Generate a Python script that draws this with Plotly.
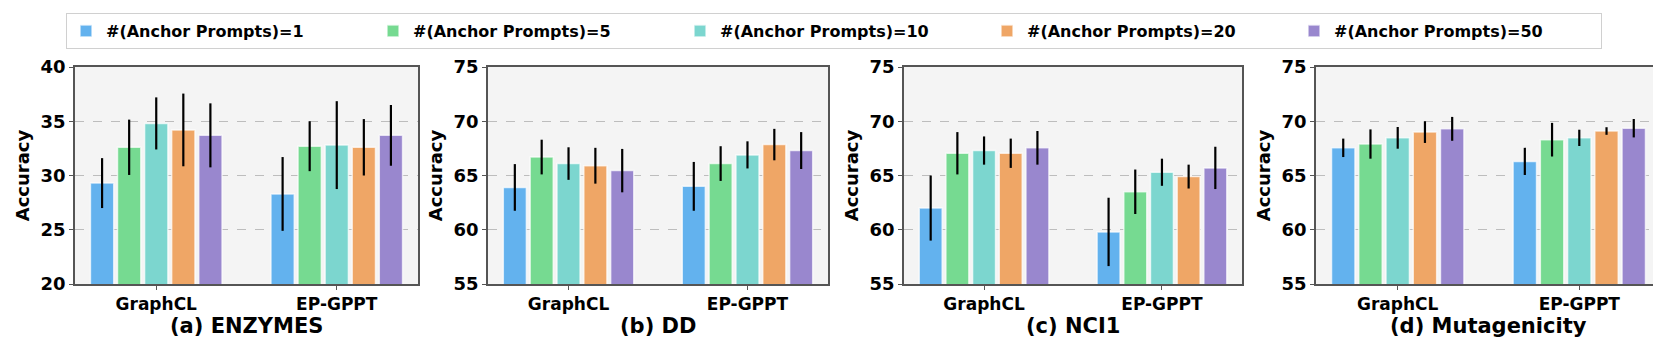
import plotly.graph_objects as go
from plotly.subplots import make_subplots

# methods on the x axis and number of anchor prompts (one bar per count)
methods = ['GraphCL', 'EP-GPPT']
prompt_counts = [1, 5, 10, 20, 50]
colors = ['#63b2ee', '#76da91', '#7cd6cf', '#efa666', '#9987ce']

datasets = ['(a) ENZYMES', '(b) DD', '(c) NCI1', '(d) Mutagenicity']
y_ranges = [[20, 40], [55, 75], [55, 75], [55, 75]]

# accuracy means, one list per prompt count: [GraphCL, EP-GPPT]
enzymes_mean = [[29.3, 28.3], [32.6, 32.7], [34.8, 32.8], [34.2, 32.6], [33.7, 33.7]]
enzymes_std = [[2.3, 3.4], [2.55, 2.3], [2.4, 4.05], [3.35, 2.6], [2.95, 2.8]]

dd_mean = [[63.9, 64.0], [66.7, 66.1], [66.1, 66.9], [65.9, 67.85], [65.45, 67.3]]
dd_std = [[2.15, 2.25], [1.6, 1.6], [1.5, 1.25], [1.65, 1.45], [2.0, 1.7]]

nci1_mean = [[62.0, 59.8], [67.05, 63.5], [67.3, 65.3], [67.05, 64.9], [67.55, 65.7]]
nci1_std = [[3.0, 3.15], [1.95, 2.05], [1.3, 1.25], [1.35, 1.1], [1.55, 1.95]]

muta_mean = [[67.55, 66.3], [67.9, 68.3], [68.47, 68.47], [69.0, 69.1], [69.3, 69.36]]
muta_std = [[0.85, 1.25], [1.35, 1.55], [1.0, 0.75], [1.0, 0.35], [1.1, 0.85]]

all_means = [enzymes_mean, dd_mean, nci1_mean, muta_mean]
all_stds = [enzymes_std, dd_std, nci1_std, muta_std]

W, H = 1661, 339
x_px = [(67, 410), (480, 820), (896, 1234), (1308, 1653)]
y_px = (59, 276)

fig = make_subplots(rows=1, cols=4)

for i in range(4):
    for j, n in enumerate(prompt_counts):
        fig.add_trace(go.Bar(
            x=methods, y=all_means[i][j], name=f'#(Anchor Prompts)={n}',
            marker=dict(color=colors[j], line=dict(color='rgba(255,255,255,0.7)', width=1.5)),
            error_y=dict(type='data', array=all_stds[i][j], color='black', thickness=2.2, width=0),
            showlegend=(i == 0), legendgroup=str(n),
        ), row=1, col=i + 1)

font_main = 'DejaVu Sans'
for i in range(4):
    ax = '' if i == 0 else str(i + 1)
    x0, x1 = x_px[i]
    fig.layout['xaxis' + ax].update(
        domain=[x0 / W, x1 / W], range=[-0.45, 1.45],
        showline=True, linecolor='#555', linewidth=1.5, mirror=True,
        ticks='outside', ticklen=4, tickcolor='#555', showgrid=False,
        tickfont=dict(family=font_main, size=17, color='black', weight='bold'),
    )
    fig.layout['yaxis' + ax].update(
        domain=[1 - y_px[1] / H, 1 - y_px[0] / H], range=y_ranges[i], dtick=5,
        showline=True, linecolor='#555', linewidth=1.5, mirror=True,
        ticks='outside', ticklen=4, tickcolor='#555',
        showgrid=True, gridcolor='#bdbdbd', griddash='dash', gridwidth=1,
        zeroline=False,
        tickfont=dict(family=font_main, size=18, color='black', weight='bold'),
        title=dict(text='Accuracy', standoff=6,
                   font=dict(family=font_main, size=18, color='black', weight='bold')),
    )
    fig.add_annotation(
        x=(x0 + x1) / 2 / W, y=1 - 318 / H, xref='paper', yref='paper',
        xanchor='center', yanchor='middle',
        text=datasets[i], showarrow=False,
        font=dict(family=font_main, size=21, color='black', weight='bold'),
    )

fig.update_layout(
    width=W, height=H,
    margin=dict(l=0, r=0, t=0, b=0, autoexpand=False),
    paper_bgcolor='white', plot_bgcolor='#f4f4f4',
    barmode='group', bargap=0.25, bargroupgap=0.14,
    legend=dict(
        orientation='h', x=58 / W, y=1 - 5 / H, xanchor='left', yanchor='top',
        bordercolor='#d0d0d0', borderwidth=1, bgcolor='white',
        entrywidth=262, entrywidthmode='pixels', tracegroupgap=0,
        font=dict(family=font_main, size=16, color='black', weight='bold'),
    ),
)

fig.write_html("out.html")
